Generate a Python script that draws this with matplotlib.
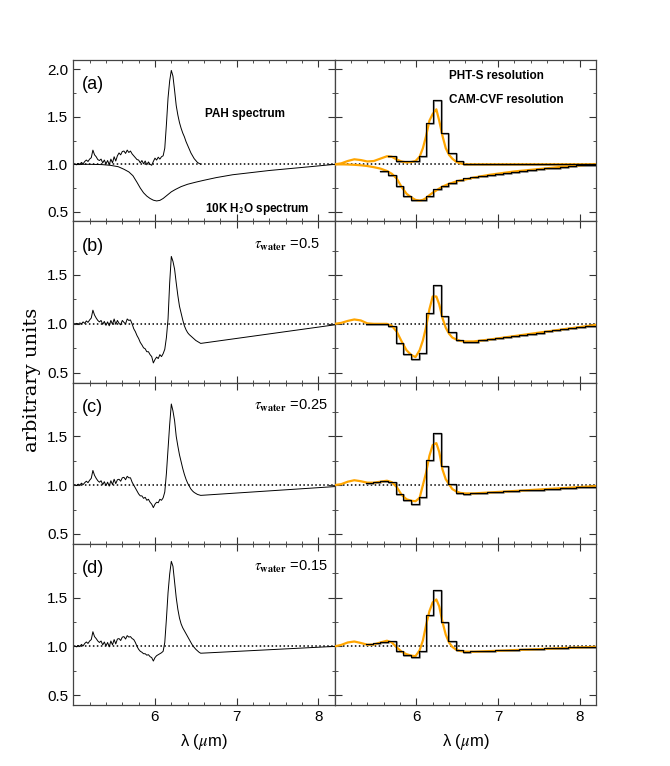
import numpy as np
import matplotlib.pyplot as plt
import matplotlib.transforms as mtransforms

plt.rcParams['font.family'] = ['Liberation Sans', 'DejaVu Sans']
plt.rcParams['mathtext.fontset'] = 'stix'

# wavelength grid of the ISO spectra (left column)
lam = np.round(np.arange(5.0, 6.561, 0.02), 2)
lam_end = 8.2

pah_a = [1.00, 1.005, 0.995, 1.01, 1.00, 1.02, 1.005, 1.03, 1.045, 1.03,
         1.055, 1.07, 1.15, 1.10, 1.08, 1.05, 1.04, 1.055, 1.015, 1.045,
         1.005, 1.04, 0.995, 1.055, 1.015, 1.08, 1.035, 1.09, 1.12, 1.10,
         1.135, 1.14, 1.115, 1.15, 1.125, 1.14, 1.11, 1.09, 1.07, 1.05,
         1.045, 1.015, 1.04, 1.005, 1.035, 0.995, 1.025, 1.00, 0.99, 1.03,
         1.065, 1.045, 1.075, 1.055, 1.08, 1.09, 1.17, 1.42, 1.70, 1.88,
         1.99, 1.93, 1.78, 1.62, 1.52, 1.44, 1.38, 1.33, 1.29, 1.24,
         1.20, 1.16, 1.12, 1.09, 1.06, 1.04, 1.02, 1.01, 1.00]
pah_b = [1.00, 1.00, 1.005, 0.995, 1.01, 1.00, 1.02, 1.005, 1.03, 1.015,
         1.04, 1.06, 1.14, 1.09, 1.06, 1.035, 1.02, 1.035, 0.995, 1.025,
         0.985, 1.02, 0.98, 1.035, 0.995, 1.05, 0.995, 1.035, 1.005, 0.99,
         1.035, 1.015, 1.00, 1.05, 1.035, 1.04, 1.00, 0.95, 0.92, 0.88,
         0.85, 0.81, 0.785, 0.755, 0.745, 0.715, 0.715, 0.685, 0.665, 0.60,
         0.635, 0.66, 0.645, 0.685, 0.665, 0.695, 0.74, 0.86, 1.05, 1.42,
         1.69, 1.64, 1.56, 1.42, 1.29, 1.18, 1.11, 1.04, 0.98, 0.94,
         0.91, 0.89, 0.875, 0.86, 0.845, 0.83, 0.82, 0.81, 0.80]
pah_c = [1.00, 1.005, 0.995, 1.01, 1.00, 1.02, 1.005, 1.025, 1.04, 1.025,
         1.05, 1.07, 1.15, 1.10, 1.07, 1.045, 1.03, 1.045, 1.005, 1.035,
         0.995, 1.03, 0.99, 1.045, 1.005, 1.06, 1.015, 1.055, 1.06, 1.04,
         1.075, 1.08, 1.055, 1.09, 1.075, 1.075, 1.03, 1.00, 0.97, 0.94,
         0.91, 0.89, 0.89, 0.865, 0.875, 0.845, 0.855, 0.825, 0.805, 0.77,
         0.805, 0.825, 0.82, 0.855, 0.845, 0.87, 0.93, 1.12, 1.37, 1.62,
         1.83, 1.76, 1.66, 1.50, 1.40, 1.31, 1.24, 1.17, 1.11, 1.06,
         1.02, 0.99, 0.96, 0.94, 0.925, 0.915, 0.905, 0.90, 0.895]
pah_d = [1.00, 1.005, 0.995, 1.01, 1.00, 1.02, 1.005, 1.03, 1.045, 1.03,
         1.055, 1.07, 1.15, 1.10, 1.08, 1.055, 1.04, 1.055, 1.015, 1.045,
         1.005, 1.04, 0.995, 1.055, 1.015, 1.07, 1.025, 1.075, 1.08, 1.06,
         1.095, 1.10, 1.075, 1.11, 1.095, 1.10, 1.08, 1.07, 1.04, 1.00,
         0.97, 0.95, 0.94, 0.925, 0.925, 0.91, 0.915, 0.895, 0.885, 0.85,
         0.885, 0.905, 0.915, 0.925, 0.935, 0.95, 1.04, 1.28, 1.55, 1.74,
         1.87, 1.82, 1.66, 1.50, 1.38, 1.29, 1.23, 1.19, 1.16, 1.13,
         1.10, 1.07, 1.04, 1.01, 0.99, 0.97, 0.955, 0.94, 0.93]
end_vals = [None, 0.99, 0.985, 1.0]

# 10 K water ice transmission
h2o_x = [5.0, 5.2, 5.35, 5.45, 5.55, 5.62, 5.68, 5.73, 5.78, 5.82, 5.86,
         5.90, 5.94, 5.98, 6.02, 6.06, 6.10, 6.15, 6.20, 6.25, 6.32, 6.40,
         6.50, 6.60, 6.75, 6.95, 7.15, 7.40, 7.65, 7.90, 8.20]
h2o_y = [1.0, 1.0, 0.997, 0.99, 0.975, 0.948, 0.92, 0.88, 0.81, 0.75, 0.70,
         0.665, 0.64, 0.622, 0.614, 0.62, 0.64, 0.675, 0.71, 0.735, 0.765, 0.79,
         0.812, 0.832, 0.86, 0.89, 0.91, 0.935, 0.955, 0.975, 1.0]

# PHT-S resolution (bin edges, values per bin)
pht_edges = [5.38, 5.47, 5.56, 5.65, 5.75, 5.84, 5.93, 6.03, 6.12, 6.21,
             6.30, 6.39, 6.48, 6.57, 6.66, 6.76, 6.86, 6.96, 7.06, 7.16,
             7.26, 7.36, 7.46, 7.56, 7.66, 7.76, 7.86, 7.96, 8.06, 8.20]
nan = np.nan
pht_a_pah = [nan, nan, nan, 1.088, 1.035, 1.03, 1.035, 1.09, 1.44, 1.68,
             1.33, 1.12, 1.035, 1.0, 1.0, 1.0, 1.0, 1.0, 1.0, 1.0,
             1.0, 1.0, 1.0, 1.0, 1.0, 1.0, 1.0, 1.0, 1.0]
pht_a_h2o = [nan, nan, 0.93, 0.884, 0.77, 0.67, 0.62, 0.62, 0.67, 0.735,
             0.77, 0.80, 0.83, 0.855, 0.87, 0.88, 0.89, 0.90, 0.91, 0.92,
             0.93, 0.94, 0.95, 0.96, 0.965, 0.975, 0.98, 0.99, 0.995]
pht_b = [1.0, 1.0, 1.0, 0.975, 0.80, 0.69, 0.64, 0.705, 1.108, 1.40,
         1.08, 0.912, 0.83, 0.815, 0.818, 0.83, 0.841, 0.853, 0.864, 0.876,
         0.887, 0.899, 0.91, 0.922, 0.933, 0.945, 0.956, 0.968, 0.982]
pht_c = [1.02, 1.03, 1.04, 1.03, 0.91, 0.845, 0.805, 0.875, 1.26, 1.53,
         1.20, 1.015, 0.92, 0.91, 0.915, 0.92, 0.925, 0.93, 0.935, 0.94,
         0.945, 0.95, 0.955, 0.96, 0.965, 0.97, 0.975, 0.98, 0.985]
pht_d = [1.02, 1.03, 1.045, 1.06, 0.955, 0.915, 0.89, 0.955, 1.32, 1.575,
         1.245, 1.06, 0.966, 0.945, 0.948, 0.952, 0.955, 0.959, 0.962, 0.966,
         0.969, 0.973, 0.976, 0.98, 0.983, 0.987, 0.99, 0.994, 0.997]

# CAM-CVF resolution
cvf_x = [5.0, 5.08, 5.16, 5.24, 5.32, 5.40, 5.48, 5.56, 5.64, 5.70, 5.76, 5.82,
         5.88, 5.94, 5.99, 6.04, 6.08, 6.12, 6.16, 6.20, 6.245, 6.28, 6.32, 6.36,
         6.40, 6.44, 6.49, 6.54, 6.60, 6.70, 6.90, 7.20, 7.50, 7.80, 8.00, 8.20]
cvf_a_pah = [1.0, 1.01, 1.035, 1.053, 1.045, 1.03, 1.035, 1.06, 1.085, 1.08, 1.05, 1.03,
             1.02, 1.025, 1.035, 1.08, 1.17, 1.30, 1.46, 1.53, 1.58, 1.46, 1.30, 1.17,
             1.10, 1.06, 1.025, 1.01, 1.0, 1.0, 1.0, 1.0, 1.0, 1.0, 1.0, 1.0]
cvf_a_h2o = [1.0, 1.0, 0.998, 0.995, 0.99, 0.982, 0.97, 0.955, 0.93, 0.90, 0.85, 0.76,
             0.69, 0.65, 0.625, 0.618, 0.625, 0.645, 0.675, 0.70, 0.725, 0.745, 0.765, 0.78,
             0.795, 0.805, 0.82, 0.83, 0.84, 0.86, 0.89, 0.925, 0.95, 0.975, 0.988, 1.0]
cvf_b = [1.0, 1.01, 1.03, 1.045, 1.035, 1.005, 1.0, 1.0, 1.0, 0.98, 0.92, 0.82,
         0.73, 0.68, 0.66, 0.73, 0.83, 0.97, 1.15, 1.28, 1.28, 1.20, 1.06, 0.96,
         0.90, 0.86, 0.84, 0.825, 0.82, 0.82, 0.84, 0.875, 0.91, 0.945, 0.967, 0.99]
cvf_c = [1.0, 1.01, 1.035, 1.05, 1.04, 1.025, 1.025, 1.035, 1.045, 1.03, 0.98, 0.90,
         0.855, 0.84, 0.835, 0.87, 1.0, 1.13, 1.30, 1.41, 1.43, 1.34, 1.16, 1.06,
         1.01, 0.96, 0.935, 0.92, 0.915, 0.915, 0.925, 0.94, 0.955, 0.97, 0.98, 0.99]
cvf_d = [1.0, 1.015, 1.04, 1.05, 1.035, 1.017, 1.02, 1.04, 1.058, 1.04, 0.99, 0.945,
         0.92, 0.905, 0.90, 0.96, 1.06, 1.22, 1.36, 1.45, 1.48, 1.41, 1.25, 1.12,
         1.04, 0.995, 0.965, 0.952, 0.946, 0.945, 0.952, 0.962, 0.972, 0.983, 0.99, 0.995]

labels = ['(a)', '(b)', '(c)', '(d)']
taus = [None, '0.5', '0.25', '0.15']
left_spectra = [pah_a, pah_b, pah_c, pah_d]
pht_sets = [[pht_a_pah, pht_a_h2o], [pht_b], [pht_c], [pht_d]]
cvf_sets = [[cvf_a_pah, cvf_a_h2o], [cvf_b], [cvf_c], [cvf_d]]

fig, axes = plt.subplots(4, 2, figsize=(6.7, 7.66), dpi=100)
fig.subplots_adjust(left=0.1094, right=0.8896, bottom=0.0796, top=0.9217,
                    hspace=0, wspace=0)

for i in range(4):
    for j in range(2):
        ax = axes[i, j]
        ax.axhline(1.0, color='black', lw=1.1, ls=(0, (1, 1.6)), zorder=1)
        if j == 0:
            if i == 0:
                ax.plot(lam, pah_a, color='black', lw=0.7)
                ax.plot(h2o_x, h2o_y, color='black', lw=0.7)
            else:
                ax.plot(np.append(lam, lam_end), np.append(left_spectra[i], end_vals[i]),
                        color='black', lw=0.7)
        else:
            shadow = mtransforms.offset_copy(ax.transData, fig=fig, x=1.0, y=-1.0, units='dots')
            for vals in pht_sets[i]:
                y = np.append(vals, vals[-1])
                ax.plot(pht_edges, y, drawstyle='steps-post', color='#8c8c8c', lw=1.2,
                        transform=shadow, zorder=2)
            for vals in cvf_sets[i]:
                ax.plot(cvf_x, vals, color='orange', lw=1.6, zorder=3)
            for vals in pht_sets[i]:
                y = np.append(vals, vals[-1])
                ax.plot(pht_edges, y, drawstyle='steps-post', color='black', lw=0.9, zorder=4)

        ax.set_xlim(5.0, 8.2)
        if i == 0:
            ax.set_ylim(0.4, 2.1)
            ax.set_yticks([0.5, 1.0, 1.5, 2.0])
        else:
            ax.set_ylim(0.4, 2.05)
            ax.set_yticks([0.5, 1.0, 1.5])
        ax.set_yticks([0.75, 1.25, 1.75], minor=True)
        ax.set_xticks([6, 7, 8])
        ax.set_xticks(np.arange(5.2, 8.2, 0.2), minor=True)
        ax.tick_params(which='both', direction='in', top=True, right=True,
                       labelsize=11, color='#333333')
        ax.tick_params(which='major', length=5)
        ax.tick_params(which='minor', length=2.5)
        for sp in ax.spines.values():
            sp.set_color('#444444')
            sp.set_linewidth(0.9)
        if j == 0:
            ax.set_yticklabels(['%.1f' % v for v in ax.get_yticks()])
        else:
            ax.set_yticklabels([])
        if i < 3:
            ax.set_xticklabels([])
        else:
            ax.set_xticklabels(['6', '7', '8'])
            ax.set_xlabel('λ ($\\mu$m)', fontsize=12, labelpad=6)

    axes[i, 0].text(0.033, 0.845, labels[i], transform=axes[i, 0].transAxes,
                    fontsize=13, va='center', ha='left')
    if taus[i] is not None:
        axes[i, 0].text(0.69, 0.855, r'$\tau_{\mathbf{water}}$ =' + taus[i],
                        transform=axes[i, 0].transAxes, fontsize=10.5, va='center', ha='left')

axes[0, 0].text(0.502, 0.663, 'PAH spectrum', transform=axes[0, 0].transAxes,
                fontsize=8.5, fontweight='bold', va='center', ha='left')
axes[0, 0].text(0.502, 0.079, '10K H$_\\mathbf{2}$O spectrum', transform=axes[0, 0].transAxes,
                fontsize=8.5, fontweight='bold', va='center', ha='left')
axes[0, 1].text(0.439, 0.902, 'PHT-S resolution', transform=axes[0, 1].transAxes,
                fontsize=8.5, fontweight='bold', va='center', ha='left')
axes[0, 1].text(0.439, 0.75, 'CAM-CVF resolution', transform=axes[0, 1].transAxes,
                fontsize=8.5, fontweight='bold', va='center', ha='left')

fig.text(32 / 670, 1 - 380 / 766, 'arbitrary units', rotation=90, fontsize=14,
         family='DejaVu Serif', va='center', ha='center')

fig.savefig('out.png', dpi=100)
